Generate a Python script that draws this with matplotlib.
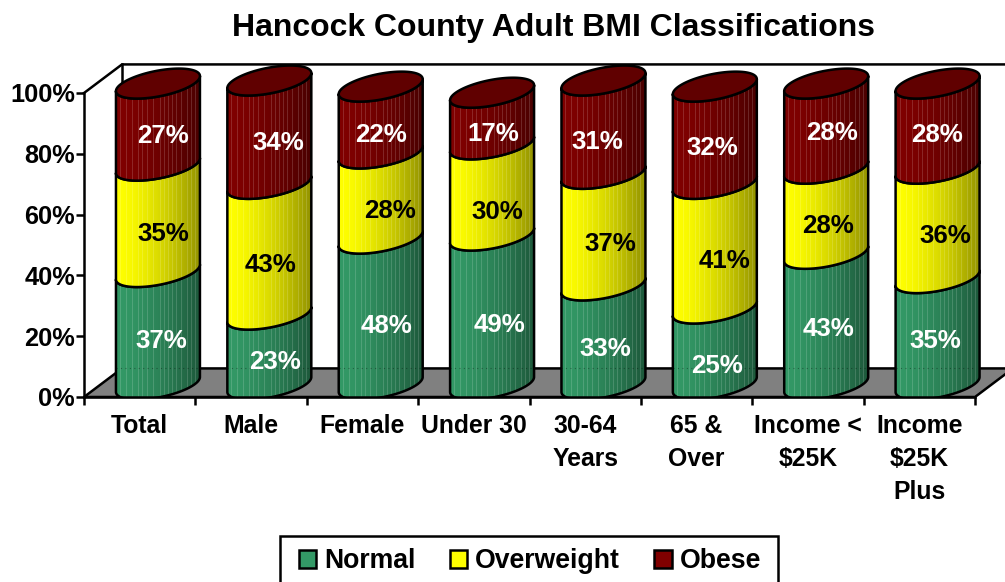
import numpy as np
import matplotlib
matplotlib.use("Agg")
import matplotlib.pyplot as plt
from matplotlib.patches import Patch, Polygon, Rectangle
from matplotlib.transforms import Bbox, TransformedBbox

plt.rcParams['font.family'] = ['Liberation Sans', 'DejaVu Sans']
plt.rcParams['font.weight'] = 'bold'

categories = ["Total", "Male", "Female", "Under 30", "30-64\nYears", "65 &\nOver", "Income <\n$25K", "Income\n$25K\nPlus"]
normal = [37, 23, 48, 49, 32.6, 25, 43, 35]
overweight = [35, 43, 28, 30, 36.7, 41, 28, 36]
obese = [27, 34, 22, 17, 30.7, 32, 28, 28]
series_names = ["Normal", "Overweight", "Obese"]
series = [normal, overweight, obese]
colors = ["#339966", "#ffff00", "#800000"]
text_colors = ["white", "black", "white"]
yticks = [0, 20, 40, 60, 80, 100]

# label nudges in pixels (x right, y down), the labels wander a bit in the original
label_dx = [[3, 5, 5], [6, 1, 9], [6, 9, 0], [7, 5, 1], [2, 7, -6], [2, 10, -2], [2, 2, 6], [-2, 8, -1]]
label_dy = [[-2, 1, -3], [-2, 1, -4], [0, 0, 0], [0, 8, 1], [0, 0, 0], [5, 0, -2], [-5, 0, -8], [-5, -2, -6]]
stripes = [.05, .12, .2, .27, .31, .37, .45, .53, .58, .63, .67, .72, .78, .85, .9, .95]

# depth of the fake 3d box and cylinder shape, data units
depth_x, depth_y = 0.341, 9.4
base_y = 4.1
bar_x, bar_r = 0.664, 0.377
tilt, sag = 2.47, 4.27

fig = plt.figure(figsize=(10.05, 5.82), dpi=100)
ax = fig.add_axes([84/1005, 1-397/582, 891/1005, 304/582])
ax.patch.set_visible(False)
# cylinders may stick out above the axes but not below the x axis
keep = TransformedBbox(Bbox([[-1, 0], [10, 130]]), ax.transData)


def arc(cx, y, front=True):
    t = np.linspace(np.pi, 2*np.pi, 60)
    xs = cx + bar_r*np.cos(t)
    ys = y + tilt*np.cos(t) + sag*np.sin(t)
    if not front:
        ys = y + tilt*np.cos(t) - sag*np.sin(t)
    return xs, ys


def shade(color):
    rgb = np.array(matplotlib.colors.to_rgb(color))
    u = np.linspace(0, 1, 168)
    cols = rgb[None, :]*(1 - 0.42*u[:, None]**1.6)
    for s in stripes:
        j = int(s*168)
        cols[j:j+2] = cols[j:j+2]*0.85 + 0.15
    return cols[None, :, :]


# floor and back wall
ax.add_patch(Polygon([(0, 0), (depth_x, depth_y), (8+depth_x, depth_y), (8, 0)], closed=True,
                     facecolor="#808080", edgecolor="black", lw=1.8, clip_on=False, zorder=1))
ax.plot([0, depth_x, 8+depth_x], [100, 100+depth_y, 100+depth_y], color="black", lw=1.8, clip_on=False, zorder=1)
ax.plot([depth_x, depth_x], [depth_y, 100+depth_y], color="black", lw=1.8, clip_on=False, zorder=1)

for i in range(len(categories)):
    cx = i + bar_x
    cum = 0
    for k in range(3):
        v = series[k][i]
        lx, ly = arc(cx, base_y + cum)
        ux, uy = arc(cx, base_y + cum + v)
        px = np.r_[lx, ux[::-1]]
        py = np.r_[ly, uy[::-1]]
        z = 3 + k*0.1
        poly = Polygon(np.c_[px, py], closed=True, facecolor="none", edgecolor="black", lw=1.8,
                       zorder=z+0.05, joinstyle='round')
        ax.add_patch(poly)
        poly.set_clip_path(None)
        poly.set_clip_box(keep)
        im = ax.imshow(shade(colors[k]), extent=[cx-bar_r, cx+bar_r, py.min(), py.max()], aspect='auto',
                       interpolation='nearest', zorder=z, origin='lower')
        im.set_clip_path(poly)
        im.set_clip_box(keep)
        ax.annotate(f"{v:.0f}%", (i+0.664, cum+v/2), xytext=(label_dx[i][k], -label_dy[i][k]-2),
                    textcoords='offset pixels', ha='center', va='center', fontsize=18.6,
                    color=text_colors[k], zorder=6, annotation_clip=False)
        cum += v
    # faint dots where the floor's back edge shows through
    ax.plot([cx-bar_r, cx+bar_r], [depth_y, depth_y], color="black", alpha=0.35, lw=0.8,
            linestyle=(0, (1, 3)), zorder=3.02)
    # lid
    fx, fy = arc(cx, base_y + cum)
    bx, by = arc(cx, base_y + cum, front=False)
    ax.add_patch(Polygon(np.c_[np.r_[fx, bx[::-1]], np.r_[fy, by[::-1]]], closed=True, facecolor="#600000",
                         edgecolor="black", lw=1.8, clip_on=False, zorder=4))

ax.set_xlim(0, 8)
ax.set_ylim(0, 100)
for s in ["top", "right"]:
    ax.spines[s].set_visible(False)
for s in ["left", "bottom"]:
    ax.spines[s].set_linewidth(1.8)
    ax.spines[s].set_zorder(5)
ax.set_yticks(yticks)
ax.set_yticklabels([f"{t}%" for t in yticks], fontsize=18.3)
ax.set_xticks(np.arange(9))
ax.set_xticklabels([])
ax.set_xticks(np.arange(8)+0.5, labels=categories, minor=True, fontsize=17.8, linespacing=1.46)
ax.tick_params(axis='x', which='minor', length=0, pad=12.5)
ax.tick_params(axis='x', which='major', length=6, width=1.8)
ax.tick_params(axis='y', length=5.5, width=1.8, pad=1)

fig.text(554/1005, 1-28/582, "Hancock County Adult BMI Classifications", ha='center', va='center', fontsize=23)

handles = [Patch(facecolor=c, edgecolor="black", lw=1.8) for c in colors]
fig.add_artist(Rectangle((280/1005, -0.01), 498/1005, 1-536/582+0.01, transform=fig.transFigure,
                         facecolor="white", edgecolor="black", lw=1.8))
fig.legend(handles, series_names, loc='center', bbox_to_anchor=(530/1005, 1-561/582), ncol=3, frameon=False,
           fontsize=19.2, handlelength=0.65, handleheight=0.65, handletextpad=0.3, columnspacing=1.28,
           borderpad=0, borderaxespad=0)

fig.savefig("out.png", dpi=100)
